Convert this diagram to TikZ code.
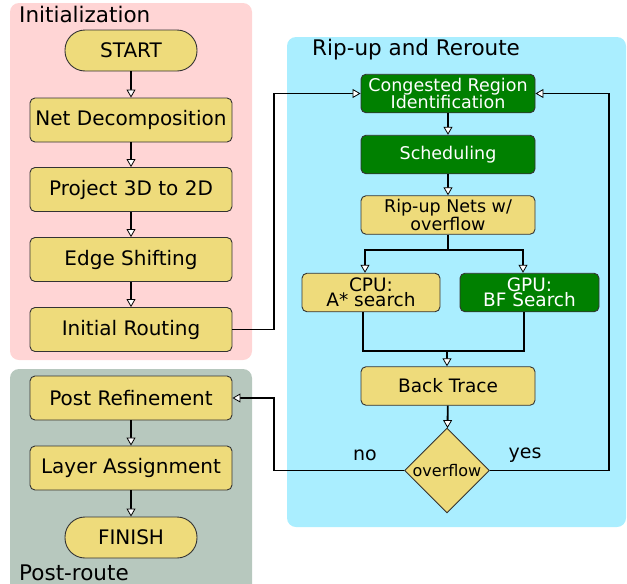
\documentclass[tikz,border=0pt]{standalone}
\usepackage{fontspec}
\setmainfont{DejaVu Sans}
\usetikzlibrary{arrows.meta,shapes.geometric}

\definecolor{stepyellow}{HTML}{EEDB7B}
\definecolor{stepgreen}{HTML}{008000}
\definecolor{initpink}{HTML}{FFD5D5}
\definecolor{rrcyan}{HTML}{AAEEFF}
\definecolor{postgray}{HTML}{B7C8BE}
\definecolor{edgegray}{HTML}{333333}

\tikzset{
  stepbox/.style={draw=edgegray, line width=0.9pt, rounded corners=5pt,
    fill=stepyellow, inner sep=0pt, align=center, text=black},
  leftbox/.style={stepbox, minimum width=202pt, minimum height=44pt,
    font=\fontsize{20}{20}\selectfont},
  terminal/.style={stepbox, rounded corners=20pt, minimum width=132pt,
    minimum height=41pt, font=\fontsize{20}{20}\selectfont},
  rightbox/.style={stepbox, minimum width=174pt, minimum height=38.5pt,
    font=\fontsize{17.5}{16}\selectfont},
  greenbox/.style={fill=stepgreen, text=white},
  decision/.style={draw=edgegray, line width=0.9pt, shape=diamond, fill=stepyellow,
    inner sep=0pt, minimum width=85pt, minimum height=85pt,
    font=\fontsize{16}{16}\selectfont},
  panel/.style={rounded corners=9pt},
  paneltitle/.style={anchor=base west, inner sep=0pt, font=\fontsize{21.5}{21.5}\selectfont},
  flow/.style={line width=1.8pt, -{Triangle[fill=white, line width=0.8pt, length=8pt, width=9pt]}},
  thinflow/.style={flow, line width=1.4pt},
  wire/.style={line width=1.8pt},
  tag/.style={inner sep=0pt, font=\fontsize{19}{19}\selectfont}
}

\begin{document}
\begin{tikzpicture}[x=1pt, y=-1pt]
\useasboundingbox (0,0) rectangle (627,584);

% group panels
\fill[panel, initpink] (10,3) rectangle (252,360);
\fill[panel, postgray] (10,369) rectangle (252,600);
\fill[panel, rrcyan] (287,37) rectangle (626,527);

\node[paneltitle] (tinit) at (19,22) {Initialization};
\node[paneltitle] (trr) at (312,55) {Rip-up and Reroute};
\node[paneltitle] (tpost) at (19,580) {Post-route};

% initialization and post-route steps
\node[terminal] (start) at (131,50.5) {START};
\node[leftbox] (netdec) at (131,120) {Net Decomposition};
\node[leftbox] (proj) at (131,189.5) {Project 3D to 2D};
\node[leftbox] (edge) at (131,259.5) {Edge Shifting};
\node[leftbox] (init) at (131,329.5) {Initial Routing};
\node[leftbox] (postref) at (131,398) {Post Refinement};
\node[leftbox] (layer) at (131,468) {Layer Assignment};
\node[terminal] (finish) at (131,537.5) {FINISH};

% rip-up and reroute loop
\node[rightbox, greenbox] (cong) at (448,93.5) {Congested Region\\Identification};
\node[rightbox, greenbox] (sched) at (448,154.5) {Scheduling};
\node[rightbox] (ripup) at (448,215) {Rip-up Nets w/\\overflow};
\node[rightbox, minimum width=138pt, font=\fontsize{18.5}{15.5}\selectfont] (cpu) at (371,292.5) {CPU:\\A* search};
\node[rightbox, greenbox, minimum width=139pt, font=\fontsize{18.5}{15.5}\selectfont] (gpu) at (529.5,292.5) {GPU:\\BF Search};
\node[rightbox, font=\fontsize{18.5}{18.5}\selectfont] (back) at (448,386) {Back Trace};
\node[decision] (ovf) at (447,470.5) {overflow};

\node[tag] (lno) at (365,455) {no};
\node[tag] (lyes) at (525,455) {yes};

% routing points of the connectors
\coordinate (split) at (448,250);
\coordinate (merge) at (447,351);
\coordinate (loopL) at (274,93.5);
\coordinate (loopR) at (609,93.5);
\coordinate (noL) at (274,470.5);

% straight flow
\draw[thinflow] (start) -- (netdec);
\draw[thinflow] (netdec) -- (proj);
\draw[thinflow] (proj) -- (edge);
\draw[thinflow] (edge) -- (init);
\draw[thinflow] (postref) -- (layer);
\draw[thinflow] (layer) -- (finish);
\draw[flow] (cong) -- (sched);
\draw[flow] (sched) -- (ripup);

% fork to CPU / GPU and join to back trace
\draw[wire] (ripup.south) -- (split);
\draw[flow] (split) -| ([xshift=-6pt]cpu.north);
\draw[flow] (split) -| ([xshift=-6.5pt]gpu.north);
\draw[wire] ([xshift=-8pt]cpu.south) |- (merge) -| ([xshift=-5.5pt]gpu.south);
\draw[flow] (merge) -- (merge |- back.north);
\draw[flow] (back) -- (ovf);

% loops
\draw[flow] (init.east) -| (loopL) -- (cong.west);
\draw[flow] (ovf.east) -| (loopR) -- (cong.east);
\draw[flow] (ovf.west) -- (noL) |- (postref.east);
\end{tikzpicture}
\end{document}
